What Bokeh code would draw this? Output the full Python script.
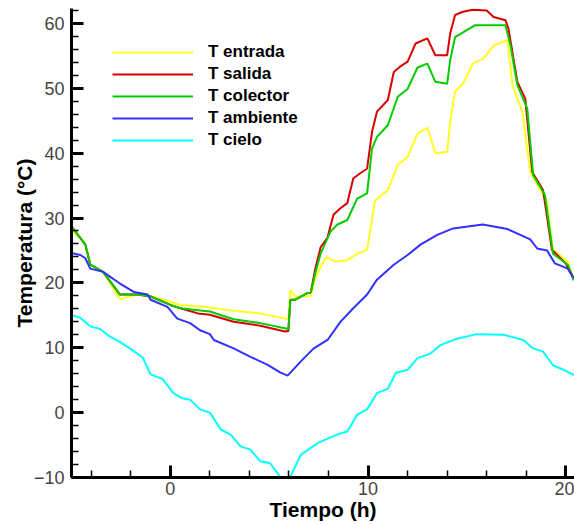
from bokeh.plotting import figure
from bokeh.models import Legend, LegendItem, FixedTicker, Range1d
from bokeh.embed import file_html
from bokeh.resources import INLINE

# ---- data ----
series_names = ["T entrada", "T salida", "T colector", "T ambiente", "T cielo"]

t_entrada = [-5.0, -4.55, -4.3, -4.05, -3.4, -2.55, -1.65, -1.0, 0.0, 0.5, 1.4, 2.0, 3.2, 4.55, 5.97,
             6.07, 6.3, 6.9, 7.1, 7.33, 7.6, 7.9, 8.3, 8.95, 9.45, 9.95, 10.35, 11.0, 11.5, 12.0,
             12.5, 13.0, 13.4, 14.0, 14.15, 14.4, 14.8, 15.3, 15.85, 16.35, 17.05, 17.3, 17.8, 18.2,
             19.05, 19.35, 20.1, 20.4]
entrada = [28.1, 26.9, 25.9, 22.8, 21.7, 17.5, 18.2, 18.0, 17.1, 16.6, 16.4, 16.2, 15.7, 15.3, 14.4,
           18.9, 17.9, 17.9, 18.0, 20.7, 22.5, 24.0, 23.3, 23.5, 24.5, 25.1, 32.7, 34.3, 38.2, 39.4,
           43.0, 43.9, 40.0, 40.2, 44.8, 49.5, 50.7, 53.8, 54.6, 56.6, 57.4, 50.5, 46.4, 37.1,
           32.5, 25.1, 23.3, 20.7]

t_salida = [-5.0, -4.55, -4.3, -4.05, -3.4, -2.55, -1.65, -1.0, 0.0, 0.5, 1.4, 2.0, 3.2, 4.55, 5.8,
            5.97, 6.07, 6.3, 6.9, 7.1, 7.33, 7.6, 7.95, 8.25, 8.6, 8.95, 9.25, 9.6, 9.95, 10.2,
            10.45, 11.0, 11.3, 11.6, 12.0, 12.4, 13.0, 13.4, 14.0, 14.15, 14.4, 14.8, 15.3, 16.0,
            16.35, 16.95, 17.1, 17.55, 17.95, 18.3, 18.85, 19.3, 20.0, 20.4]
salida = [28.7, 26.9, 25.9, 22.8, 21.7, 18.2, 18.2, 17.9, 16.6, 16.1, 15.3, 15.1, 14.0, 13.4, 12.5,
          12.6, 17.4, 17.4, 18.4, 18.5, 22.2, 25.5, 27.0, 30.5, 31.5, 32.3, 36.1, 36.9, 37.6, 43.3,
          46.4, 48.2, 52.5, 53.3, 54.1, 56.9, 57.7, 55.1, 55.1, 58.4, 61.3, 61.8, 62.1, 62.0,
          61.0, 60.5, 59.2, 51.0, 48.4, 37.1, 34.3, 25.1, 23.0, 20.7]

t_colector = [-5.0, -4.55, -4.3, -4.05, -3.4, -2.55, -1.65, -1.0, 0.0, 0.5, 1.4, 2.0, 3.2, 4.55, 5.97,
              6.07, 6.3, 6.9, 7.1, 7.33, 7.6, 8.1, 8.45, 8.95, 9.45, 9.95, 10.2, 10.45, 11.0, 11.5,
              12.0, 12.5, 13.0, 13.4, 14.0, 14.15, 14.4, 15.4, 16.95, 17.2, 17.55, 18.05, 18.35,
              18.95, 19.35, 20.1, 20.4]
colector = [28.7, 26.9, 25.9, 22.8, 21.7, 18.2, 18.2, 17.9, 16.6, 16.1, 15.8, 15.6, 14.4, 13.8, 12.9,
            17.4, 17.4, 18.4, 18.5, 21.5, 24.5, 27.9, 29.0, 29.7, 33.0, 33.8, 40.7, 42.5, 44.3, 48.7,
            49.9, 53.2, 53.8, 51.0, 50.7, 54.3, 57.9, 59.7, 59.7, 56.6, 50.5, 46.9, 36.6,
            33.5, 24.5, 22.8, 20.4]

t_ambiente = [-5.0, -4.55, -4.3, -4.05, -3.4, -2.55, -1.85, -1.15, -1.0, -0.15, 0.35, 1.0, 1.5, 2.0,
              2.2, 3.2, 4.05, 4.9, 5.55, 5.93, 6.6, 7.25, 7.95, 8.6, 9.25, 9.95, 10.45, 11.3, 12.0,
              12.65, 13.5, 14.3, 15.8, 17.05, 17.7, 18.2, 18.55, 19.05, 19.45, 20.1, 20.4]
ambiente = [24.6, 24.3, 23.8, 22.2, 21.7, 19.9, 18.6, 18.2, 17.4, 16.3, 14.5, 13.8, 12.7, 12.1,
            11.2, 9.9, 8.6, 7.4, 6.2, 5.7, 7.9, 9.9, 11.2, 14.0, 16.1, 18.2, 20.5, 22.8, 24.3,
            25.9, 27.4, 28.4, 29.0, 28.3, 27.4, 26.7, 25.3, 25.0, 23.0, 22.2, 20.7]

t_cielo = [-5.05, -4.55, -4.05, -3.55, -3.05, -2.55, -2.0, -1.4, -1.0, -0.4, 0.15, 0.6, 1.0, 1.5, 2.0,
           2.55, 3.05, 3.55, 4.05, 4.55, 5.05, 5.55, 6.0, 6.6, 7.45, 7.95, 8.6, 8.95, 9.45, 9.95,
           10.45, 11.0, 11.4, 12.0, 12.5, 13.15, 13.65, 14.5, 15.5, 16.85, 17.85, 18.35, 18.85,
           19.35, 19.9, 20.4]
cielo = [15.1, 14.6, 13.3, 12.9, 11.7, 10.9, 9.8, 8.5, 5.9, 5.2, 3.0, 2.2, 2.0, 0.5, 0.0,
         -2.6, -3.4, -5.2, -5.7, -7.5, -7.8, -9.9, -10.3, -6.5, -4.7, -4.0, -3.2, -2.9, -0.3, 0.5,
         3.0, 3.7, 6.1, 6.6, 8.4, 9.1, 10.4, 11.4, 12.1, 12.0, 11.2, 9.9, 9.4,
         7.3, 6.6, 5.8]

x_major = [0, 10, 20]
x_minor = [v for v in range(-4, 21, 2) if v % 10 != 0]
y_major = [-10, 0, 10, 20, 30, 40, 50, 60]
y_minor = [v for v in range(-10, 63, 2) if v % 10 != 0]

colors = ["#ffff20", "#d80000", "#00cc00", "#3030ff", "#00ffff"]

FONT = "Liberation Sans"

p = figure(width=574, height=524, output_backend="svg", toolbar_location=None,
           x_range=Range1d(-5, 20.44), y_range=Range1d(-10, 62.3),
           min_border_left=71, min_border_right=0, min_border_top=8, min_border_bottom=47,
           x_axis_label="Tiempo (h)", y_axis_label="Temperatura (°C)")
p.outline_line_color = None
p.grid.visible = False
p.background_fill_color = "white"
p.border_fill_color = "white"

p.xaxis.ticker = FixedTicker(ticks=x_major, minor_ticks=x_minor)
p.yaxis.ticker = FixedTicker(ticks=y_major, minor_ticks=y_minor)

for ax in (p.xaxis[0], p.yaxis[0]):
    ax.axis_line_width = 3
    ax.axis_line_color = "black"
    ax.major_tick_in = 12
    ax.major_tick_out = 0
    ax.minor_tick_in = 7
    ax.minor_tick_out = 0
    ax.major_tick_line_width = 3
    ax.major_tick_line_color = "black"
    ax.minor_tick_line_width = 1.5
    ax.minor_tick_line_color = "black"
    ax.major_label_text_font = FONT
    ax.major_label_text_font_size = "18px"
    ax.major_label_text_color = "#444444"
    ax.axis_label_text_font = FONT
    ax.axis_label_text_font_size = "21px"
    ax.axis_label_text_font_style = "bold"
    ax.axis_label_text_color = "black"

p.yaxis.major_label_standoff = 7
p.yaxis.axis_label_standoff = -5
p.xaxis.major_label_standoff = 4
p.xaxis.axis_label_standoff = 0

data = [(t_entrada, entrada), (t_salida, salida), (t_colector, colector),
        (t_ambiente, ambiente), (t_cielo, cielo)]

items = []
for (tt, vv), name, c in zip(data, series_names, colors):
    r = p.line(tt, vv, line_color=c, line_width=2)
    items.append(LegendItem(label=name, renderers=[r]))

legend = Legend(items=items, location=(41, 326), glyph_width=81, glyph_height=22,
                label_height=22, spacing=0, padding=0, margin=0, label_standoff=15,
                border_line_color=None, background_fill_alpha=0,
                label_text_font=FONT, label_text_font_size="17px",
                label_text_font_style="bold", label_text_color="black")
p.add_layout(legend)

open("out.html", "w").write(file_html(p, INLINE))
